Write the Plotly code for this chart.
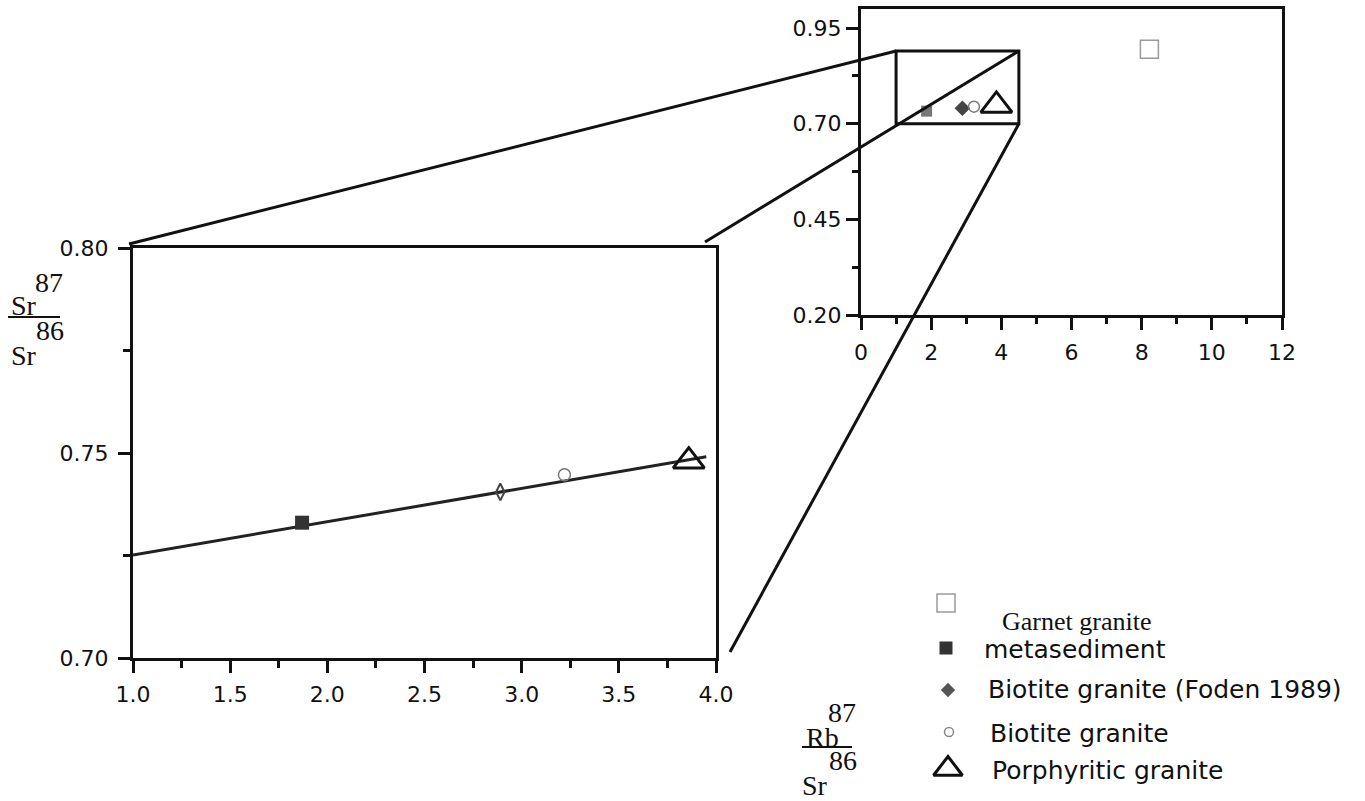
import plotly.graph_objects as go

W, H = 1365, 801

# ---------------- data ----------------
sample_names = ["Garnet granite", "metasediment", "Biotite granite (Foden 1989)",
                "Biotite granite", "Porphyritic granite"]
rb_sr = [8.22, 1.87, 2.89, 3.22, 3.86]          # 87Rb/86Sr
sr_sr = [0.895, 0.733, 0.7405, 0.7447, 0.748]   # 87Sr/86Sr
fit_x = [1.0, 3.95]
fit_y = [0.7251, 0.7491]
main_xticks = [1.0, 1.5, 2.0, 2.5, 3.0, 3.5, 4.0]
main_yticks = [0.70, 0.75, 0.80]
inset_xticks = [0, 2, 4, 6, 8, 10, 12]
inset_yticks = [0.20, 0.45, 0.70, 0.95]
zoom_box_x = [1.0, 4.5]
zoom_box_y = [0.70, 0.89]

# ---------------- layout geometry (pixels) ----------------
def px(x):
    return x / W

def py(y):
    return 1 - y / H

MAIN_XD = [px(133), px(716)]
MAIN_YD = [py(658), py(248)]
INS_XD = [px(861), px(1282)]
INS_YD = [py(315), py(9)]
MAIN_XR = [1.0, 4.0]
MAIN_YR = [0.70, 0.80]
INS_XR = [0, 12]
INS_YR = [0.2, 1.0]


def ins2paper(x, y):
    xp = INS_XD[0] + (x - INS_XR[0]) / (INS_XR[1] - INS_XR[0]) * (INS_XD[1] - INS_XD[0])
    yp = INS_YD[0] + (y - INS_YR[0]) / (INS_YR[1] - INS_YR[0]) * (INS_YD[1] - INS_YD[0])
    return xp, yp

styles = {
    "Garnet granite": dict(symbol="square-open", size=18, color="#9a9a9a", line=dict(width=1.5, color="#9a9a9a")),
    "metasediment": dict(symbol="square", size=14, color="#333333", line=dict(width=0)),
    "Biotite granite (Foden 1989)": dict(symbol="diamond-tall-open", size=12, color="#444444", line=dict(width=2, color="#444444")),
    "Biotite granite": dict(symbol="circle-open", size=12, color="#777777", line=dict(width=1.5, color="#777777")),
    "Porphyritic granite": dict(symbol="triangle-up-open", size=27, color="#111111", line=dict(width=3, color="#111111")),
}
inset_styles = dict(styles)
inset_styles["metasediment"] = dict(symbol="square", size=11, color="#777777", line=dict(width=0))
inset_styles["Biotite granite (Foden 1989)"] = dict(symbol="diamond", size=12, color="#444444", line=dict(width=0))
inset_styles["Biotite granite"] = dict(symbol="circle-open", size=11, color="#777777", line=dict(width=1.5, color="#777777"))

fig = go.Figure()

# regression line (main)
fig.add_trace(go.Scatter(x=fit_x, y=fit_y, mode="lines", line=dict(color="#222222", width=3),
                         xaxis="x", yaxis="y", showlegend=False, hoverinfo="skip"))

# main plot points (within zoom range)
for n, xv, yv in zip(sample_names, rb_sr, sr_sr):
    if MAIN_XR[0] <= xv <= MAIN_XR[1] and MAIN_YR[0] <= yv <= MAIN_YR[1]:
        fig.add_trace(go.Scatter(x=[xv], y=[yv], mode="markers", marker=styles[n],
                                 xaxis="x", yaxis="y", showlegend=False, name=n))

# inset points
for n, xv, yv in zip(sample_names, rb_sr, sr_sr):
    fig.add_trace(go.Scatter(x=[xv], y=[yv], mode="markers", marker=inset_styles[n],
                             xaxis="x2", yaxis="y2", showlegend=False, name=n))

# manual legend on a full-page pixel axis
leg_marker_x = [946, 946, 948, 949, 948]
leg_marker_y = [603, 648, 690, 732, 769]
leg_text_x = [1000, 982, 986, 988, 990]
leg_text_y = [621, 649, 689, 733, 770]
leg_styles = dict(styles)
leg_styles["metasediment"] = dict(symbol="square", size=13, color="#333333", line=dict(width=0))
leg_styles["Biotite granite (Foden 1989)"] = dict(symbol="diamond", size=11, color="#555555", line=dict(width=0))
leg_styles["Biotite granite"] = dict(symbol="circle-open", size=9, color="#888888", line=dict(width=1.5, color="#888888"))
leg_styles["Porphyritic granite"] = dict(symbol="triangle-up-open", size=25, color="#111111", line=dict(width=3, color="#111111"))
leg_styles["Garnet granite"] = dict(symbol="square-open", size=18, color="#9a9a9a", line=dict(width=1.5, color="#9a9a9a"))
for i, n in enumerate(sample_names):
    fig.add_trace(go.Scatter(x=[leg_marker_x[i]], y=[leg_marker_y[i]], mode="markers",
                             marker=leg_styles[n], xaxis="x3", yaxis="y3",
                             showlegend=False, hoverinfo="skip"))

annotations = []
for i, n in enumerate(sample_names):
    fam = "Liberation Serif" if i == 0 else "DejaVu Sans"
    size = 26 if i == 0 else 25
    annotations.append(dict(text=n, x=px(leg_text_x[i]), y=py(leg_text_y[i]), xref="paper", yref="paper",
                            xanchor="left", yanchor="middle", showarrow=False,
                            font=dict(family=fam, size=size, color="#111111")))

# axis titles (stacked isotope ratios)
serif = dict(family="Liberation Serif", size=28, color="#111111")
def lab(t, x, y):
    annotations.append(dict(text=t, x=px(x), y=py(y), xref="paper", yref="paper",
                            xanchor="center", yanchor="middle", showarrow=False, font=serif))

lab("87", 49, 282)
lab("Sr", 24, 305)
lab("86", 50, 330)
lab("Sr", 24, 355)
lab("87", 842, 712)
lab("Rb", 822, 737)
lab("86", 843, 760)
lab("Sr", 815, 785)

shapes = [
    dict(type="line", xref="paper", yref="paper", x0=px(8), x1=px(60), y0=py(317), y1=py(317),
         line=dict(color="#111111", width=2)),
    dict(type="line", xref="paper", yref="paper", x0=px(802), x1=px(852), y0=py(747), y1=py(747),
         line=dict(color="#111111", width=2)),
    # zoom box in inset
    dict(type="rect", xref="x2", yref="y2", x0=zoom_box_x[0], x1=zoom_box_x[1],
         y0=zoom_box_y[0], y1=zoom_box_y[1], line=dict(color="#111111", width=3)),
]
tl = ins2paper(zoom_box_x[0], zoom_box_y[1])
tr = ins2paper(zoom_box_x[1], zoom_box_y[1])
br = ins2paper(zoom_box_x[1], zoom_box_y[0])
connectors = [
    ((px(129), py(244)), tl),
    ((px(705), py(242)), tr),
    ((px(730), py(652)), br),
]
for (a, b) in connectors:
    shapes.append(dict(type="line", xref="paper", yref="paper", x0=a[0], y0=a[1], x1=b[0], y1=b[1],
                       line=dict(color="#111111", width=3)))

tickfont = dict(family="DejaVu Sans", size=22, color="#111111")
common = dict(showgrid=False, zeroline=False, showline=True, linecolor="#111111", linewidth=3,
              mirror=True, ticks="outside", tickcolor="#111111", tickwidth=2.5, ticklen=12,
              tickfont=tickfont, automargin=False)

fig.update_layout(
    width=W, height=H, margin=dict(l=0, r=0, t=0, b=0, autoexpand=False),
    paper_bgcolor="white", plot_bgcolor="rgba(0,0,0,0)", showlegend=False,
    xaxis=dict(domain=MAIN_XD, range=MAIN_XR, tickvals=main_xticks, tickformat=".1f", ticklabelstandoff=3,
               minor=dict(ticks="outside", ticklen=7, tickwidth=2.5, tickcolor="#111111", dtick=0.25, tick0=1.0),
               anchor="y", **common),
    yaxis=dict(domain=MAIN_YD, range=MAIN_YR, tickvals=main_yticks, tickformat=".2f", ticklabelstandoff=5,
               minor=dict(ticks="outside", ticklen=7, tickwidth=2.5, tickcolor="#111111", dtick=0.025, tick0=0.7),
               anchor="x", **common),
    xaxis2=dict(domain=INS_XD, range=INS_XR, tickvals=inset_xticks, tickformat="d", ticklabelstandoff=4,
                minor=dict(ticks="outside", ticklen=6, tickwidth=2.5, tickcolor="#111111", dtick=1, tick0=0),
                anchor="y2", **common),
    yaxis2=dict(domain=INS_YD, range=INS_YR, tickvals=inset_yticks, tickformat=".2f", ticklabelstandoff=0,
                minor=dict(ticks="outside", ticklen=6, tickwidth=2.5, tickcolor="#111111", dtick=0.125, tick0=0.2),
                anchor="x2", **common),
    xaxis3=dict(domain=[0, 1], range=[0, W], visible=False, fixedrange=True, anchor="y3", automargin=False),
    yaxis3=dict(domain=[0, 1], range=[H, 0], visible=False, fixedrange=True, anchor="x3", automargin=False),
    annotations=annotations,
    shapes=shapes,
)

fig.write_html("out.html")
